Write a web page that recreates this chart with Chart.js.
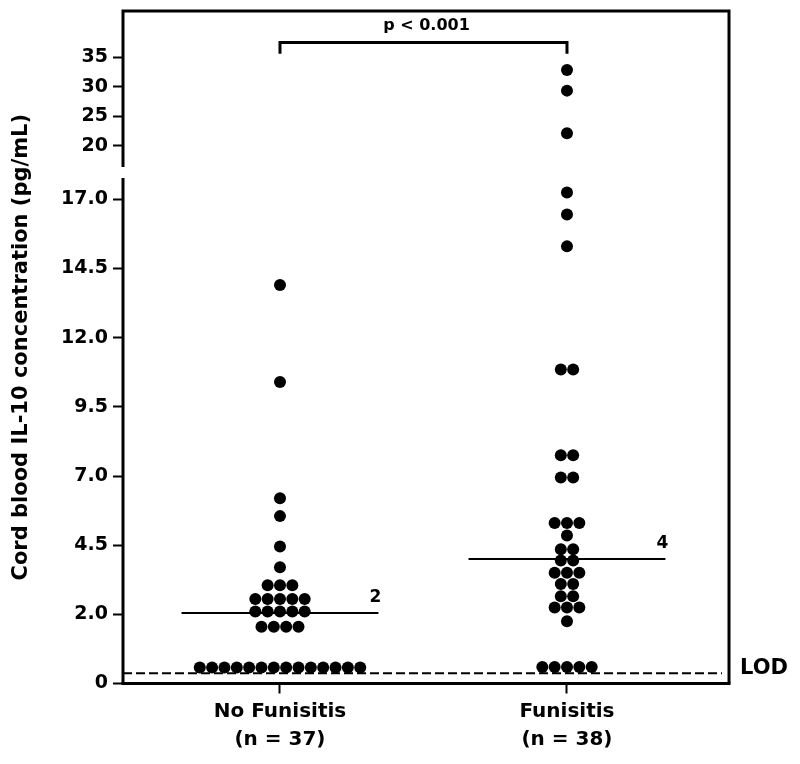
<!DOCTYPE html>
<html>
<head>
<meta charset="utf-8">
<title>Cord blood IL-10 by funisitis</title>
<script src="https://cdn.jsdelivr.net/npm/chart.js@4.4.1/dist/chart.umd.min.js"></script>
<style>
  html, body { margin: 0; padding: 0; background: #fff; }
</style>
</head>
<body>
<canvas id="il10Chart" width="800" height="764"></canvas>
<script>
// ---- data ----
const groupNames = ['No Funisitis', 'Funisitis'];
const groupCounts = ['(n = 37)', '(n = 38)'];

// cord blood IL-10 (pg/mL), one entry per dot
const noFunisitisValues = [
    13.9, 10.4, 6.2, 5.55, 4.45, 3.7,
    3.05, 3.05, 3.05,
    2.55, 2.55, 2.55, 2.55, 2.55,
    2.1, 2.1, 2.1, 2.1, 2.1,
    1.55, 1.55, 1.55, 1.55,
    0.08, 0.08, 0.08, 0.08, 0.08, 0.08, 0.08,
    0.08, 0.08, 0.08, 0.08, 0.08, 0.08, 0.08
];
const funisitisValues = [
    32.85, 29.35, 22.1,
    17.25, 16.45, 15.3,
    10.85, 10.85, 7.75, 7.75, 6.95, 6.95,
    5.3, 5.3, 5.3, 4.85, 4.35, 4.35, 3.95, 3.95,
    3.5, 3.5, 3.5, 3.1, 3.1, 2.65, 2.65,
    2.25, 2.25, 2.25, 1.75,
    0.1, 0.1, 0.1, 0.1, 0.1
];

const medianValues = [2.05, 4.0];
const medianLabels = ['2', '4'];
const lodValue = -0.13;

const lowerTicks = [-0.5, 2, 4.5, 7, 9.5, 12, 14.5, 17];
const lowerTickLabels = ['0', '2.0', '4.5', '7.0', '9.5', '12.0', '14.5', '17.0'];
const upperTicks = [20, 25, 30, 35];
const upperTickLabels = ['20', '25', '30', '35'];

const yTitle = 'Cord blood IL-10 concentration (pg/mL)';
const pValueText = 'p < 0.001';
const lodText = 'LOD';

// ---- layout constants ----
const AXIS_BREAK = 18;      // values above this go on the upper segment
const DOT_STEP = 0.043;     // horizontal spacing between tied dots (x units)
const MEDIAN_HALF = 0.343;  // half length of the median bar (x units)
const X_MIN = 0.453, X_MAX = 2.5645;
const FONT = '"DejaVu Sans", "Liberation Sans", Arial, sans-serif';

Chart.defaults.font.family = FONT;
Chart.defaults.font.weight = 'bold';
Chart.defaults.color = '#000';

// spread tied values side by side, centred on the group
function swarm(values, center) {
    const counts = {};
    values.forEach(function(v) { counts[v] = (counts[v] || 0) + 1; });
    const seen = {};
    return values.map(function(v) {
        const k = seen[v] || 0;
        seen[v] = k + 1;
        return { x: center + (k - (counts[v] - 1) / 2) * DOT_STEP, y: v };
    });
}

const lowerDots = [];
const upperDots = [];
[noFunisitisValues, funisitisValues].forEach(function(vals, i) {
    swarm(vals, i + 1).forEach(function(p) {
        (p.y < AXIS_BREAK ? lowerDots : upperDots).push(p);
    });
});

const medianSets = medianValues.map(function(m, i) {
    return {
        data: [{ x: i + 1 - MEDIAN_HALF, y: m }, { x: i + 1 + MEDIAN_HALF, y: m }],
        yAxisID: 'y',
        showLine: true,
        borderColor: '#000',
        borderWidth: 2,
        pointRadius: 0,
        clip: false
    };
});

// no extra room for edge labels, the box is placed by layout.padding
function fixYScale(s) {
    s.width = 123;
    s.paddingTop = 0;
    s.paddingBottom = 0;
}

const decorPlugin = {
    id: 'decor',
    beforeDraw: function(chart) {
        const ctx = chart.ctx;
        ctx.save();
        ctx.fillStyle = '#fff';
        ctx.fillRect(0, 0, chart.width, chart.height);
        ctx.restore();
    },
    afterDraw: function(chart) {
        const ctx = chart.ctx;
        const a = chart.chartArea;
        const lo = chart.scales.y, up = chart.scales.y2, xs = chart.scales.x;
        const gap = 5.5;

        ctx.save();
        ctx.strokeStyle = '#000';
        ctx.lineWidth = 3;
        // lower part of the broken y axis
        ctx.beginPath();
        ctx.moveTo(a.left, a.bottom);
        ctx.lineTo(a.left, lo.top + gap);
        ctx.stroke();
        // upper part, top and right of the box
        ctx.beginPath();
        ctx.moveTo(a.left, up.bottom - gap);
        ctx.lineTo(a.left, a.top);
        ctx.lineTo(a.right, a.top);
        ctx.lineTo(a.right, a.bottom);
        ctx.stroke();
        // x axis
        ctx.beginPath();
        ctx.moveTo(a.left - 1.5, a.bottom);
        ctx.lineTo(a.right + 1.5, a.bottom);
        ctx.stroke();

        ctx.fillStyle = '#000';
        // y axis title
        ctx.save();
        ctx.translate(22, (a.top + a.bottom) / 2);
        ctx.rotate(-Math.PI / 2);
        ctx.font = 'bold 21px ' + FONT;
        ctx.textAlign = 'center';
        ctx.textBaseline = 'middle';
        ctx.fillText(yTitle, 0, 0);
        ctx.restore();

        // p value above the bracket
        ctx.font = 'bold 16px ' + FONT;
        ctx.textAlign = 'center';
        ctx.textBaseline = 'middle';
        const midX = (xs.getPixelForValue(1) + xs.getPixelForValue(2)) / 2;
        ctx.fillText(pValueText, midX + 3, up.getPixelForValue(37.5) - 17);

        // median labels
        ctx.font = 'bold 17px ' + FONT;
        medianValues.forEach(function(m, i) {
            ctx.fillText(medianLabels[i],
                xs.getPixelForValue(i + 1 + MEDIAN_HALF) - 3,
                lo.getPixelForValue(m) - 15);
        });

        // LOD label
        ctx.font = 'bold 21px ' + FONT;
        ctx.textAlign = 'left';
        ctx.fillText(lodText, a.right + 11, lo.getPixelForValue(lodValue) - 5);
        ctx.restore();
    }
};

new Chart(document.getElementById('il10Chart'), {
    type: 'scatter',
    data: {
        datasets: [
            {
                data: lowerDots,
                yAxisID: 'y',
                pointRadius: 6,
                pointBackgroundColor: '#000',
                pointBorderWidth: 0,
                clip: false
            },
            {
                data: upperDots,
                yAxisID: 'y2',
                pointRadius: 6,
                pointBackgroundColor: '#000',
                pointBorderWidth: 0,
                clip: false
            }
        ].concat(medianSets, [
            {
                // limit of detection
                data: [{ x: X_MIN, y: lodValue }, { x: 2.54, y: lodValue }],
                yAxisID: 'y',
                showLine: true,
                borderColor: '#000',
                borderWidth: 2,
                borderDash: [9, 4],
                pointRadius: 0,
                clip: false
            },
            {
                // significance bracket
                data: [{ x: 1, y: 35.6 }, { x: 1, y: 37.5 }, { x: 2, y: 37.5 }, { x: 2, y: 35.6 }],
                yAxisID: 'y2',
                showLine: true,
                borderColor: '#000',
                borderWidth: 3,
                pointRadius: 0,
                tension: 0,
                clip: false
            }
        ])
    },
    options: {
        responsive: false,
        animation: false,
        events: [],
        layout: { padding: { top: 11, right: 71, bottom: 0, left: 0 } },
        plugins: {
            legend: { display: false },
            tooltip: { enabled: false }
        },
        scales: {
            x: {
                type: 'linear',
                position: 'bottom',
                min: X_MIN,
                max: X_MAX,
                bounds: 'data',
                afterBuildTicks: function(s) { s.ticks = [{ value: 1 }, { value: 2 }]; },
                afterFit: function(s) {
                    s.height = 80.5;
                    s.paddingLeft = 0;
                    s.paddingRight = 0;
                },
                ticks: {
                    autoSkip: false,
                    maxRotation: 0,
                    padding: 4,
                    font: { size: 20, weight: 'bold', lineHeight: 1.4 },
                    callback: function(v, i) { return [groupNames[i], groupCounts[i]]; }
                },
                grid: { drawOnChartArea: false, tickLength: 10, tickWidth: 2, color: '#000' },
                border: { display: false }
            },
            y: {
                type: 'linear',
                position: 'left',
                stack: 'left',
                stackWeight: 511,
                min: -0.5,
                max: 17.97,
                bounds: 'data',
                afterBuildTicks: function(s) { s.ticks = lowerTicks.map(function(v) { return { value: v }; }); },
                afterFit: fixYScale,
                ticks: {
                    padding: 5,
                    font: { size: 19, weight: 'bold' },
                    callback: function(v, i) { return lowerTickLabels[i]; }
                },
                grid: { drawOnChartArea: false, tickLength: 10, tickWidth: 2, color: '#000' },
                border: { display: false }
            },
            y2: {
                type: 'linear',
                position: 'left',
                stack: 'left',
                stackWeight: 161.5,
                min: 15.46,
                max: 42.86,
                bounds: 'data',
                afterBuildTicks: function(s) { s.ticks = upperTicks.map(function(v) { return { value: v }; }); },
                afterFit: fixYScale,
                ticks: {
                    padding: 5,
                    font: { size: 19, weight: 'bold' },
                    callback: function(v, i) { return upperTickLabels[i]; }
                },
                grid: { drawOnChartArea: false, tickLength: 10, tickWidth: 2, color: '#000' },
                border: { display: false }
            }
        }
    },
    plugins: [decorPlugin]
});
</script>
</body>
</html>
